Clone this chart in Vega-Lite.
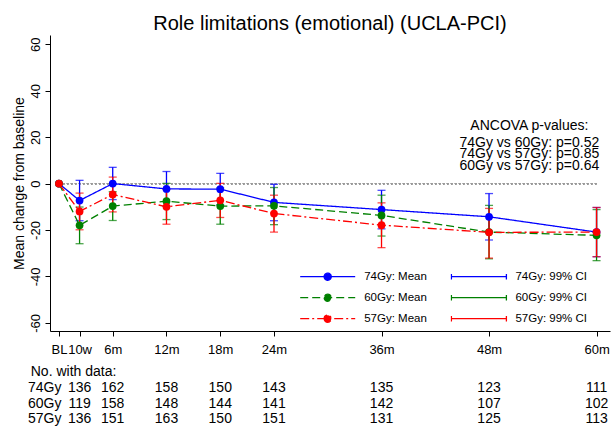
{
  "$schema": "https://vega.github.io/schema/vega-lite/v6.json",
  "width": 560,
  "height": 296,
  "autosize": {"type": "none"},
  "padding": {"left": 50, "top": 35, "right": 2, "bottom": 96},
  "background": "white",
  "title": {"text": "Role limitations (emotional) (UCLA-PCI)", "font": "Liberation Sans", "fontSize": 20, "fontWeight": "normal", "color": "black", "anchor": "middle", "frame": "group", "baseline": "alphabetic", "offset": -15},
  "config": {
    "view": {"stroke": null},
    "font": "Liberation Sans",
    "axis": {"labelFont": "Liberation Sans", "titleFont": "Liberation Sans", "labelColor": "black", "titleColor": "black", "domainColor": "black", "tickColor": "black", "grid": false, "titleFontWeight": "normal"},
    "legend": {"labelFont": "Liberation Sans", "labelColor": "black"},
    "text": {"font": "Liberation Sans", "color": "black"}
  },
  "datasets": {
    "stats": [
      {"dose": "74Gy", "t": 0, "mean": 0},
      {"dose": "74Gy", "t": 2.3, "mean": -7.3, "lo": -16.0, "hi": 1.4},
      {"dose": "74Gy", "t": 6, "mean": 0.0, "lo": -6.9, "hi": 7.0},
      {"dose": "74Gy", "t": 12, "mean": -2.3, "lo": -9.8, "hi": 5.2},
      {"dose": "74Gy", "t": 18, "mean": -2.4, "lo": -9.2, "hi": 4.4},
      {"dose": "74Gy", "t": 24, "mean": -8.1, "lo": -16.0, "hi": -0.3},
      {"dose": "74Gy", "t": 36, "mean": -11.2, "lo": -19.5, "hi": -2.9},
      {"dose": "74Gy", "t": 48, "mean": -14.3, "lo": -24.3, "hi": -4.3},
      {"dose": "74Gy", "t": 60, "mean": -20.9, "lo": -31.5, "hi": -10.3},
      {"dose": "60Gy", "t": 0, "mean": 0},
      {"dose": "60Gy", "t": 2.3, "mean": -18.0, "lo": -25.9, "hi": -10.1},
      {"dose": "60Gy", "t": 6, "mean": -9.7, "lo": -15.9, "hi": -3.5},
      {"dose": "60Gy", "t": 12, "mean": -7.6, "lo": -15.5, "hi": 0.1},
      {"dose": "60Gy", "t": 18, "mean": -9.7, "lo": -17.5, "hi": -1.9},
      {"dose": "60Gy", "t": 24, "mean": -9.6, "lo": -17.7, "hi": -1.7},
      {"dose": "60Gy", "t": 36, "mean": -13.7, "lo": -22.6, "hi": -5.0},
      {"dose": "60Gy", "t": 48, "mean": -20.9, "lo": -32.4, "hi": -9.4},
      {"dose": "60Gy", "t": 60, "mean": -22.3, "lo": -33.2, "hi": -11.2},
      {"dose": "57Gy", "t": 0, "mean": 0},
      {"dose": "57Gy", "t": 2.3, "mean": -12.0, "lo": -19.9, "hi": -4.1},
      {"dose": "57Gy", "t": 6, "mean": -4.7, "lo": -12.2, "hi": 2.8},
      {"dose": "57Gy", "t": 12, "mean": -10.0, "lo": -17.5, "hi": -2.5},
      {"dose": "57Gy", "t": 18, "mean": -7.2, "lo": -14.6, "hi": 0.1},
      {"dose": "57Gy", "t": 24, "mean": -12.9, "lo": -20.9, "hi": -5.0},
      {"dose": "57Gy", "t": 36, "mean": -17.9, "lo": -27.6, "hi": -8.3},
      {"dose": "57Gy", "t": 48, "mean": -21.0, "lo": -32.1, "hi": -10.7},
      {"dose": "57Gy", "t": 60, "mean": -20.9, "lo": -31.5, "hi": -10.3}
    ],
    "counts": [
      {"dose": "74Gy", "t": 2.3, "n": 136}, {"dose": "74Gy", "t": 6, "n": 162}, {"dose": "74Gy", "t": 12, "n": 158}, {"dose": "74Gy", "t": 18, "n": 150},
      {"dose": "74Gy", "t": 24, "n": 143}, {"dose": "74Gy", "t": 36, "n": 135}, {"dose": "74Gy", "t": 48, "n": 123}, {"dose": "74Gy", "t": 60, "n": 111},
      {"dose": "60Gy", "t": 2.3, "n": 119}, {"dose": "60Gy", "t": 6, "n": 158}, {"dose": "60Gy", "t": 12, "n": 148}, {"dose": "60Gy", "t": 18, "n": 144},
      {"dose": "60Gy", "t": 24, "n": 141}, {"dose": "60Gy", "t": 36, "n": 142}, {"dose": "60Gy", "t": 48, "n": 107}, {"dose": "60Gy", "t": 60, "n": 102},
      {"dose": "57Gy", "t": 2.3, "n": 136}, {"dose": "57Gy", "t": 6, "n": 151}, {"dose": "57Gy", "t": 12, "n": 163}, {"dose": "57Gy", "t": 18, "n": 150},
      {"dose": "57Gy", "t": 24, "n": 151}, {"dose": "57Gy", "t": 36, "n": 131}, {"dose": "57Gy", "t": 48, "n": 125}, {"dose": "57Gy", "t": 60, "n": 113}
    ],
    "ancova": [
      {"comparison": "74Gy vs 60Gy", "p": 0.52},
      {"comparison": "74Gy vs 57Gy", "p": 0.85},
      {"comparison": "60Gy vs 57Gy", "p": 0.64}
    ]
  },
  "encoding": {
    "x": {"type": "quantitative", "scale": {"domain": [-1, 61.5], "nice": false, "zero": false},
      "axis": {"orient": "bottom", "values": [0, 2.3, 6, 12, 18, 24, 36, 48, 60], "labelExpr": "datum.value == 0 ? 'BL' : datum.value < 3 ? '10w' : datum.value + 'm'", "title": null, "domain": true, "ticks": true, "domainColor": "#000000", "tickColor": "#000000", "domainWidth": 1, "tickWidth": 1, "domainOpacity": 1, "tickOpacity": 1, "zindex": 1, "tickSize": 5, "labelPadding": 7, "labelFontSize": 13, "labelOverlap": false, "labelFlush": false, "labelBound": false}},
    "y": {"type": "quantitative", "scale": {"domain": [-63.5, 64], "nice": false, "zero": false},
      "axis": {"orient": "left", "values": [-60, -40, -20, 0, 20, 40, 60], "labelExpr": "'' + datum.value", "title": "Mean change from baseline", "domain": true, "ticks": true, "domainColor": "#000000", "tickColor": "#000000", "domainWidth": 1, "tickWidth": 1, "domainOpacity": 1, "tickOpacity": 1, "zindex": 1, "titleFontSize": 14, "titlePadding": 3, "labelAngle": -90, "labelAlign": "center", "labelBaseline": "bottom", "labelFontSize": 13, "tickSize": 5, "labelPadding": 3}}
  },
  "layer": [
    {
      "data": {"name": "stats"},
      "mark": {"type": "rule", "color": "#999999", "strokeDash": [1.3, 2.7], "strokeWidth": 1.1},
      "encoding": {
        "x": {"datum": 0},
        "x2": {"datum": 60},
        "y": {"datum": 0}
      }
    },
    {
      "data": {"name": "stats"},
      "transform": [{"filter": "isValid(datum.lo)"}],
      "mark": {"type": "errorbar", "ticks": {"size": 8}, "thickness": 1.3},
      "encoding": {
        "x": {"field": "t"},
        "y": {"field": "lo"},
        "y2": {"field": "hi"},
        "color": {"field": "dose", "type": "nominal",
          "scale": {"domain": ["74Gy", "60Gy", "57Gy"], "range": ["#0000ff", "#008000", "#ff0000"]},
          "legend": {"title": null, "orient": "none", "legendX": 400.4, "legendY": 233.7, "direction": "vertical", "padding": 0,
            "symbolType": "M-1,0H1M-1,-0.1V0.1M1,-0.1V0.1", "symbolSize": 3025, "symbolStrokeWidth": 1.3,
            "clipHeight": 16, "rowPadding": 5, "labelFontSize": 11.5, "labelOffset": 8,
            "labelExpr": "datum.label + ': 99% CI'",
            "encode": {"symbols": {"update": {
              "fill": {"value": "transparent"},
              "stroke": {"signal": "datum.value === '74Gy' ? '#0000ff' : datum.value === '60Gy' ? '#008000' : '#ff0000'"},
              "strokeDash": {"value": []},
              "opacity": {"value": 1}}}}}}
      }
    },
    {
      "data": {"name": "stats"},
      "mark": {"type": "line", "strokeWidth": 1.3},
      "encoding": {
        "x": {"field": "t"},
        "y": {"field": "mean"},
        "color": {"field": "dose", "type": "nominal",
          "scale": {"domain": ["74Gy", "60Gy", "57Gy"], "range": ["#0000ff", "#008000", "#ff0000"]},
          "legend": {"title": null, "orient": "none", "legendX": 249.2, "legendY": 233.7, "direction": "vertical", "padding": 0,
            "symbolType": "M-1,0H1M-0.13,0A0.13,0.13,0,1,0,0.13,0A0.13,0.13,0,1,0,-0.13,0Z", "symbolSize": 3025, "symbolStrokeWidth": 1.3,
            "clipHeight": 16, "rowPadding": 5, "labelFontSize": 11.5, "labelOffset": 8,
            "labelExpr": "datum.label + ': Mean'",
            "encode": {"symbols": {"update": {
              "fill": {"signal": "datum.value === '74Gy' ? '#0000ff' : datum.value === '60Gy' ? '#008000' : '#ff0000'"},
              "stroke": {"signal": "datum.value === '74Gy' ? '#0000ff' : datum.value === '60Gy' ? '#008000' : '#ff0000'"},
              "strokeDash": {"signal": "datum.value === '60Gy' ? [8, 4] : datum.value === '57Gy' ? [9, 3, 2, 3] : [1, 0]"},
              "opacity": {"value": 1}}}}}},
        "strokeDash": {"field": "dose", "type": "nominal",
          "scale": {"domain": ["74Gy", "60Gy", "57Gy"], "range": [[1, 0], [8, 4], [9, 3, 2, 3]]}, "legend": null}
      }
    },
    {
      "data": {"name": "stats"},
      "mark": {"type": "point", "filled": true, "size": 60, "opacity": 1},
      "encoding": {
        "x": {"field": "t"},
        "y": {"field": "mean"},
        "color": {"field": "dose", "type": "nominal",
          "scale": {"domain": ["74Gy", "60Gy", "57Gy"], "range": ["#0000ff", "#008000", "#ff0000"]}, "legend": null}
      }
    },
    {
      "data": {"name": "counts"},
      "mark": {"type": "text", "fontSize": 14, "align": "center", "baseline": "middle"},
      "encoding": {
        "x": {"field": "t"},
        "y": {"datum": -63.5},
        "yOffset": {"field": "dose", "type": "nominal", "scale": {"type": "point", "domain": ["No. with data:", "74Gy", "60Gy", "57Gy"], "range": [41.3, 88.3], "padding": 0}},
        "text": {"field": "n", "type": "quantitative"}
      }
    },
    {
      "data": {"name": "counts"},
      "transform": [{"aggregate": [{"op": "count", "as": "k"}], "groupby": ["dose"]}],
      "mark": {"type": "text", "fontSize": 14, "align": "left", "baseline": "middle"},
      "encoding": {
        "x": {"datum": -3.45},
        "y": {"datum": -63.5},
        "yOffset": {"field": "dose", "type": "nominal", "scale": {"type": "point", "domain": ["No. with data:", "74Gy", "60Gy", "57Gy"], "range": [41.3, 88.3], "padding": 0}},
        "text": {"field": "dose", "type": "nominal"}
      }
    },
    {
      "data": {"values": [{"heading": "No. with data:"}]},
      "mark": {"type": "text", "fontSize": 14, "align": "left", "baseline": "middle"},
      "encoding": {
        "x": {"datum": -3.15},
        "y": {"datum": -63.5},
        "yOffset": {"field": "heading", "type": "nominal", "scale": {"type": "point", "domain": ["No. with data:", "74Gy", "60Gy", "57Gy"], "range": [41.3, 88.3], "padding": 0}},
        "text": {"field": "heading", "type": "nominal"}
      }
    },
    {
      "data": {"name": "ancova"},
      "transform": [{"calculate": "datum.comparison + ': p=' + format(datum.p, '.2f')", "as": "label"}],
      "mark": {"type": "text", "fontSize": 14, "align": "center", "baseline": "middle"},
      "encoding": {
        "x": {"datum": 52.5},
        "y": {"datum": 24.8},
        "yOffset": {"field": "comparison", "type": "nominal", "scale": {"type": "point", "domain": ["74Gy vs 60Gy", "74Gy vs 57Gy", "60Gy vs 57Gy"], "range": [16.7, 40], "padding": 0}},
        "text": {"field": "label", "type": "nominal"}
      }
    },
    {
      "data": {"values": [{"heading": "ANCOVA p-values:"}]},
      "mark": {"type": "text", "fontSize": 14, "align": "center", "baseline": "middle"},
      "encoding": {
        "x": {"datum": 52.5},
        "y": {"datum": 24.8},
        "text": {"field": "heading", "type": "nominal"}
      }
    }
  ],
  "resolve": {"scale": {"color": "independent", "yOffset": "independent"}}
}
